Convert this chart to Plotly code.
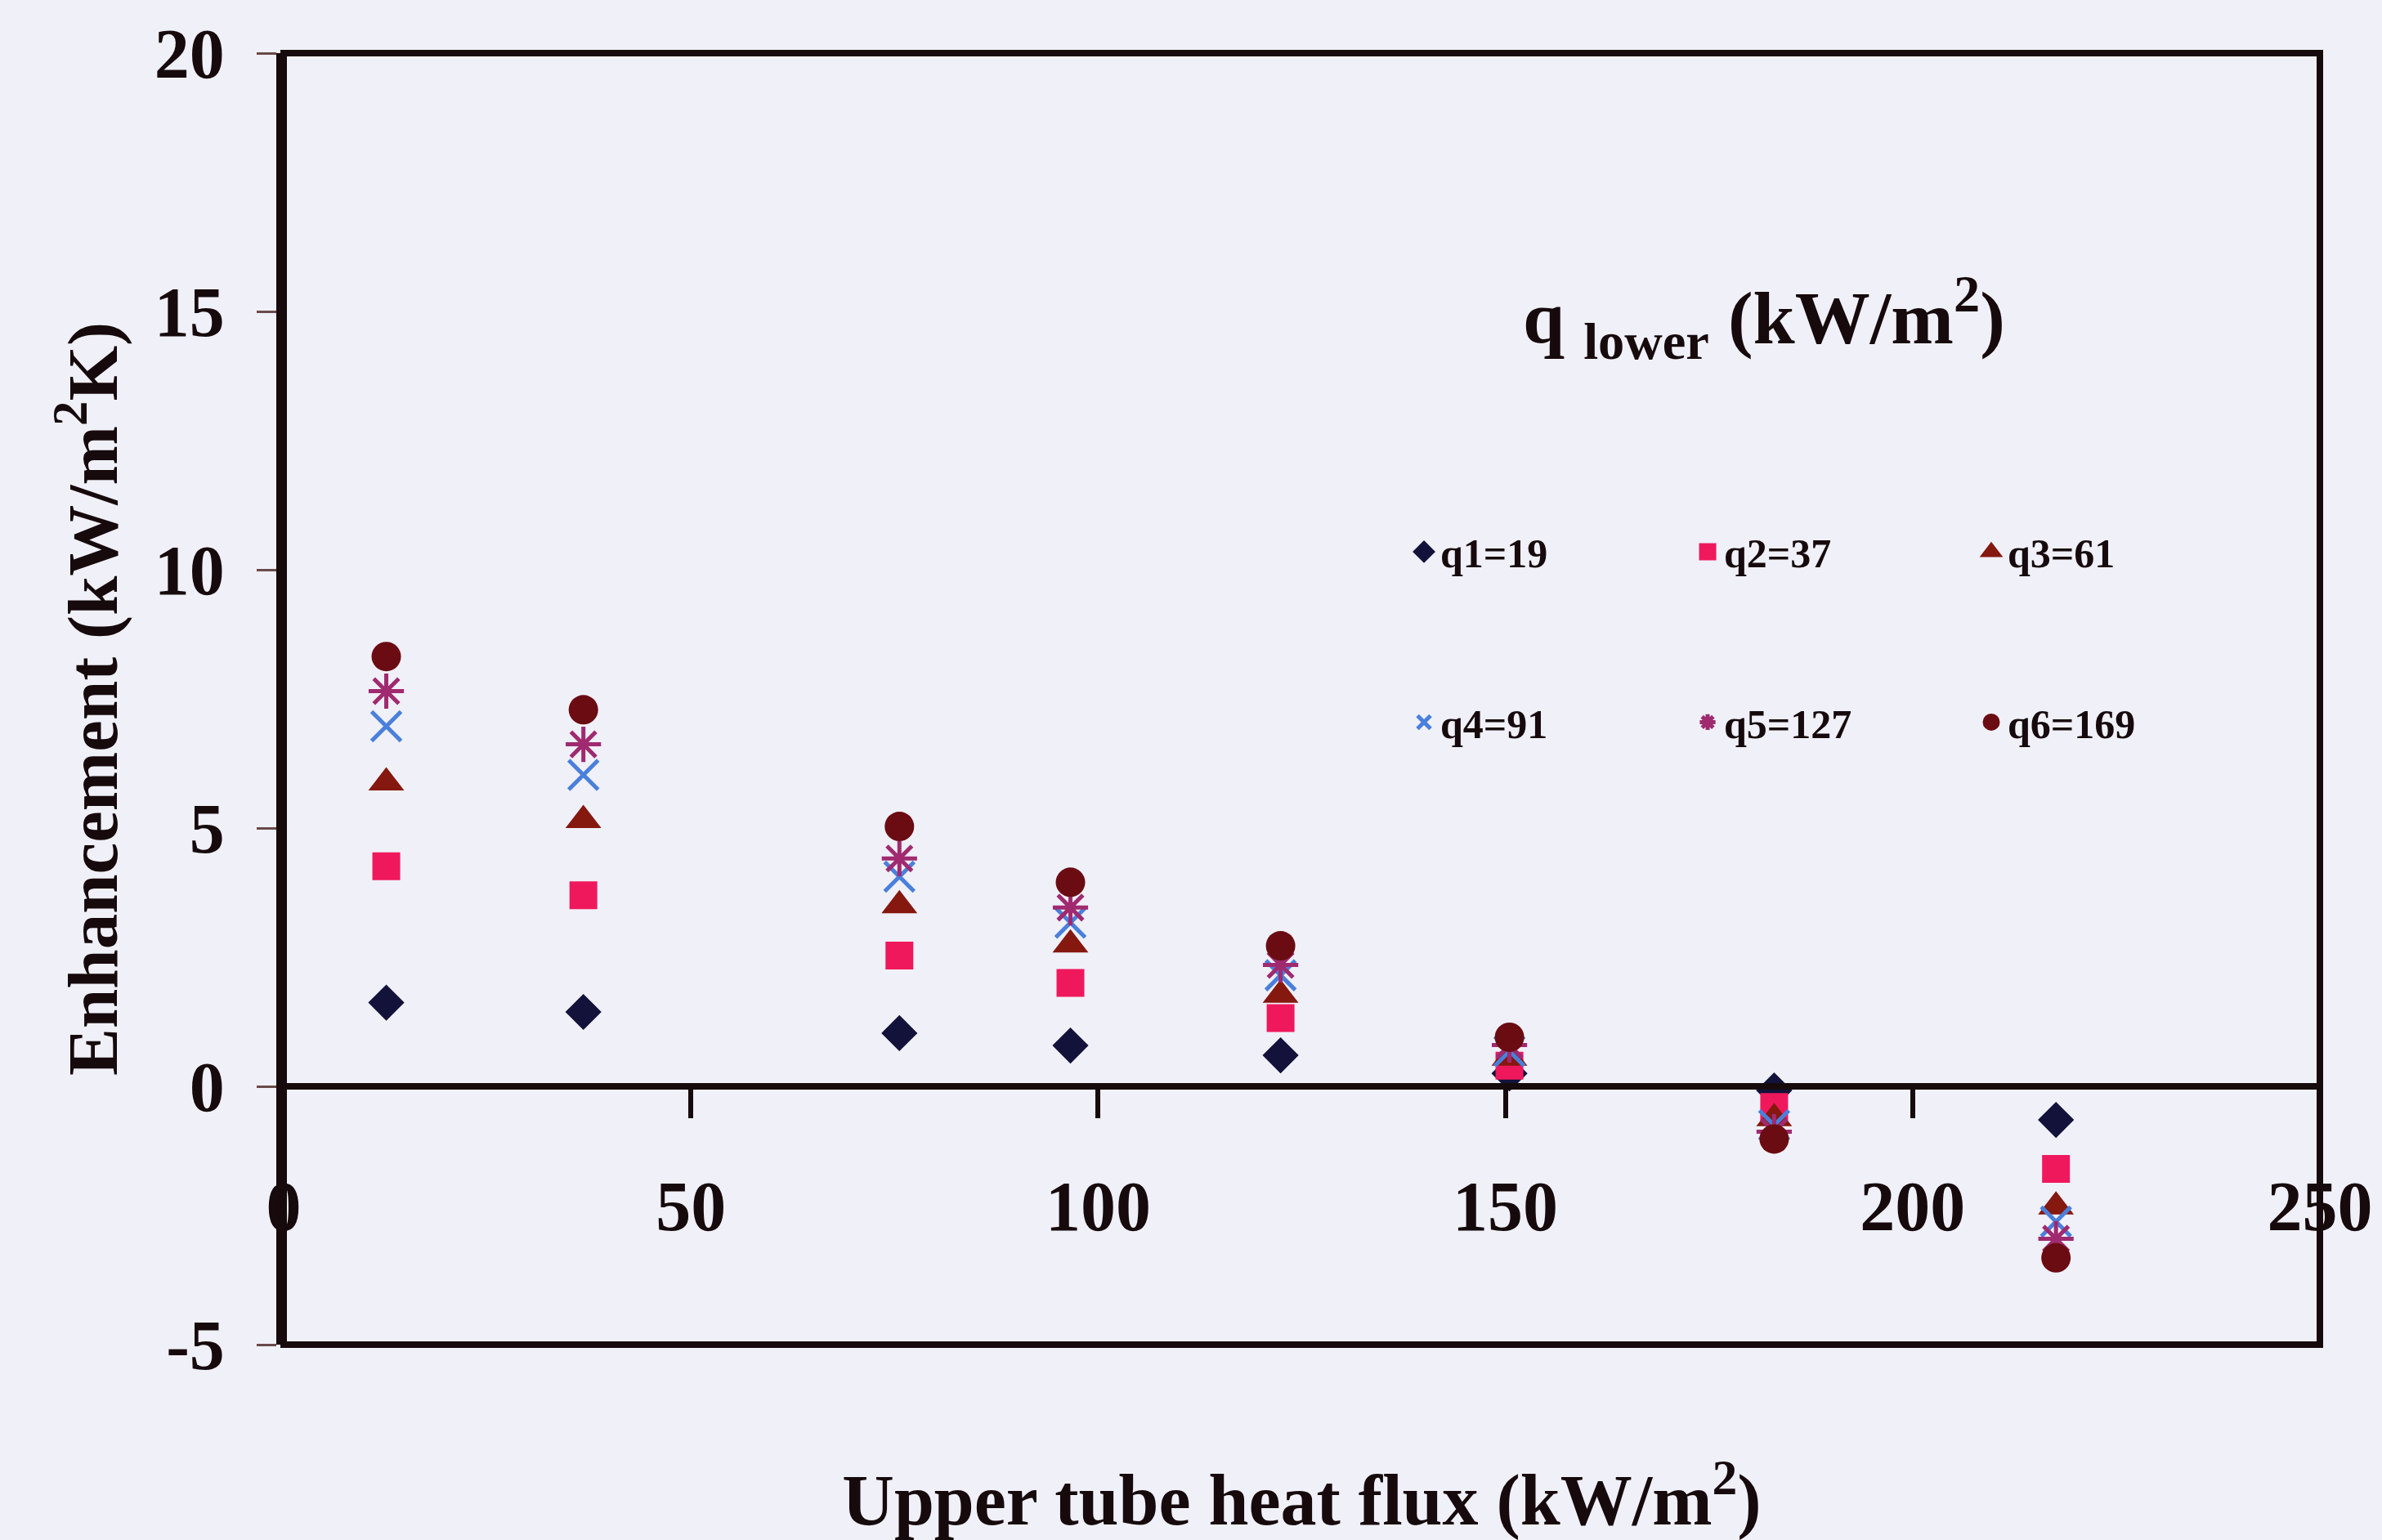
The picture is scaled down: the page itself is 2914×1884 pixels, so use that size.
import plotly.graph_objects as go

# Upper tube heat flux (kW/m2) at which the runs were taken
upper_flux = [12.6, 36.8, 75.6, 96.6, 122.4, 150.5, 183.0, 217.6]

# Enhancement (kW/m2K) for each lower tube heat flux
q1_19 = [1.62, 1.44, 1.03, 0.79, 0.60, 0.25, -0.08, -0.65]
q2_37 = [4.26, 3.70, 2.53, 2.00, 1.32, 0.40, -0.40, -1.60]
q3_61 = [5.88, 5.15, 3.50, 2.74, 1.77, 0.55, -0.62, -2.33]
q4_91 = [6.97, 6.03, 4.06, 3.17, 2.15, 0.68, -0.75, -2.62]
q5_127 = [7.65, 6.62, 4.41, 3.46, 2.35, 0.80, -0.88, -2.95]
q6_169 = [8.32, 7.29, 5.03, 3.95, 2.72, 0.95, -1.02, -3.32]

series_names = ["q1=19", "q2=37", "q3=61", "q4=91", "q5=127", "q6=169"]
series_values = [q1_19, q2_37, q3_61, q4_91, q5_127, q6_169]

x_ticks = [0, 50, 100, 150, 200, 250]
y_ticks = [-5, 0, 5, 10, 15, 20]
y_tick_text = ["-5", "0", "5", "10", "15", "20"]

# marker styling per series
styles = [
    dict(symbol="diamond", size=34, color="#12123a", lw=0),
    dict(symbol="square", size=34, color="#f0185c", lw=0),
    dict(symbol="triangle-up", size=38, color="#85180f", lw=0),
    dict(symbol="x-thin-open", size=36, color="#4a80dc", lw=5),
    dict(symbol="asterisk-open", size=36, color="#a02a70", lw=5),
    dict(symbol="circle", size=36, color="#6a0c12", lw=0),
]

INK = "#160a0c"
BG = "#f0f0f8"
SERIF = "Liberation Serif"

fig = go.Figure()

for name, vals, st in zip(series_names, series_values, styles):
    fig.add_trace(go.Scatter(
        x=upper_flux, y=vals, mode="markers", name=name, showlegend=False,
        marker=dict(symbol=st["symbol"], size=st["size"], color=st["color"],
                    line=dict(width=st["lw"], color=st["color"])),
    ))

# legend keys: three per row, two rows
for i, (name, st) in enumerate(zip(series_names, styles)):
    fig.add_trace(go.Scatter(
        x=[None], y=[None], mode="markers", name=name,
        legend="legend" if i < 3 else "legend2",
        marker=dict(symbol=st["symbol"], size=16, color=st["color"],
                    line=dict(width=5, color=st["color"])),
    ))

legend_common = dict(
    orientation="h", xanchor="left", yanchor="middle",
    entrywidth=302, entrywidthmode="pixels", itemwidth=30,
    bgcolor="rgba(0,0,0,0)", borderwidth=0,
    font=dict(family=SERIF, size=50, color=INK, weight="bold"),
)

fig.update_layout(
    width=2914, height=1884,
    margin=dict(l=347, r=76, t=65, b=239),
    paper_bgcolor=BG, plot_bgcolor=BG,
    legend=dict(x=0.552, y=0.614, **legend_common),
    legend2=dict(x=0.552, y=0.482, **legend_common),
    xaxis=dict(
        range=[0, 250], tickvals=x_ticks, ticktext=[str(v) for v in x_ticks],
        anchor="free", position=0.2,
        showline=True, linewidth=8, linecolor=INK,
        ticks="outside", ticklen=35, tickwidth=6, tickcolor=INK,
        ticklabelstandoff=34,
        tickfont=dict(family=SERIF, size=86, color=INK, weight="bold"),
        showgrid=False, zeroline=False, automargin=False,
        title=dict(text="Upper tube heat flux (kW/m<sup>2</sup>)", standoff=316,
                   font=dict(family=SERIF, size=88, color=INK, weight="bold")),
    ),
    yaxis=dict(
        range=[-5, 20], tickvals=y_ticks, ticktext=y_tick_text,
        showline=True, linewidth=9, linecolor=INK,
        ticks="outside", ticklen=24, tickwidth=3, tickcolor="#6a4a4a",
        ticklabelstandoff=22,
        tickfont=dict(family=SERIF, size=86, color=INK, weight="bold"),
        showgrid=False, zeroline=False, automargin=False,
        title=dict(text="Enhancement (kW/m<sup>2</sup>K)", standoff=20,
                   font=dict(family=SERIF, size=87, color=INK, weight="bold")),
    ),
    shapes=[dict(type="rect", xref="x domain", yref="y domain",
                 x0=0, x1=1, y0=0, y1=1, line=dict(color=INK, width=8),
                 layer="above")],
    annotations=[dict(
        text="q <sub>lower</sub> (kW/m<sup>2</sup>)", xref="paper", yref="paper",
        x=0.727, y=0.795, xanchor="center", yanchor="middle", showarrow=False,
        font=dict(family=SERIF, size=92, color=INK, weight="bold"),
    )],
)

fig.write_html("out.html")
